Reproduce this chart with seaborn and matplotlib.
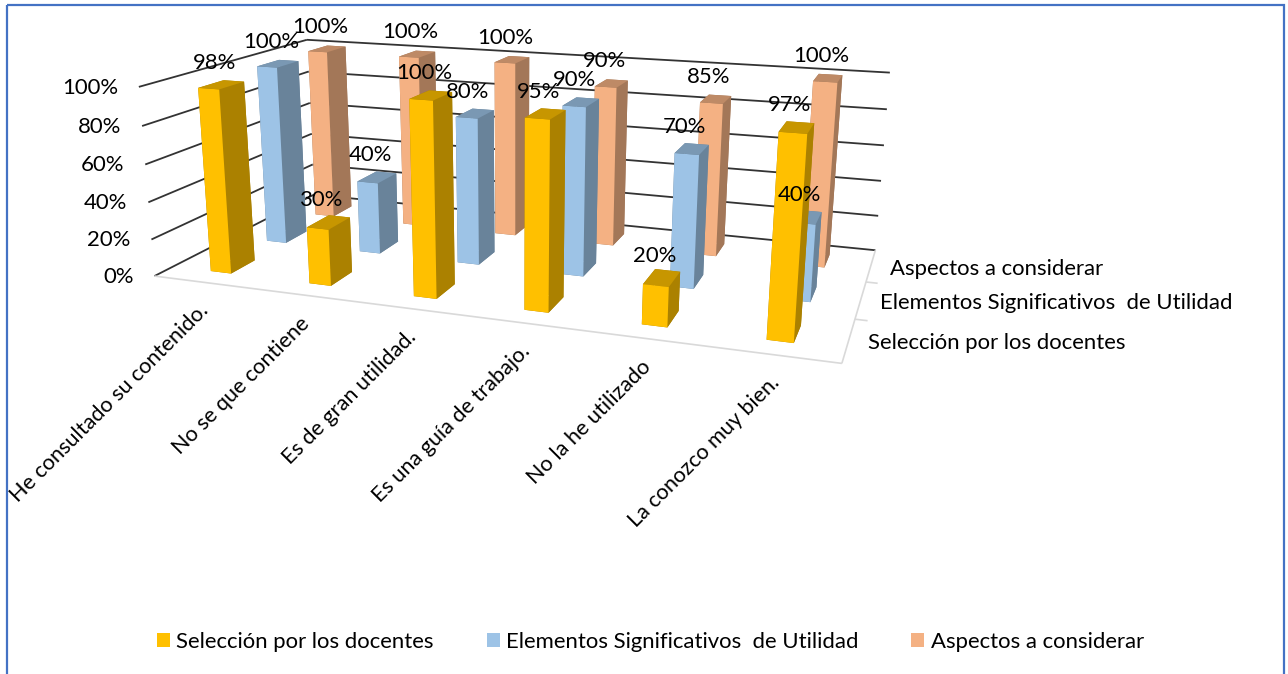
import numpy as np
import matplotlib
matplotlib.use("Agg")
import matplotlib.pyplot as plt
import seaborn as sns
from matplotlib.patches import Patch, Rectangle
from mpl_toolkits.mplot3d import proj3d
from mpl_toolkits.mplot3d.art3d import Line3DCollection

sns.set_theme(style="white")
plt.rcParams["font.family"] = ["Lato", "DejaVu Sans"]

# Data
categorias = ["He consultado su contenido.", "No se que contiene", "Es de gran utilidad.",
              "Es una guía de trabajo.", "No la he utilizado", "La conozco muy bien."]
series = ["Selección por los docentes", "Elementos Significativos  de Utilidad", "Aspectos a considerar"]
seleccion = [98, 30, 100, 95, 20, 97]
elementos = [100, 40, 80, 90, 70, 40]
aspectos = [100, 100, 100, 90, 85, 100]
y_ticks = [0, 20, 40, 60, 80, 100]
colores = ["#FFC000", "#9DC3E6", "#F4B183"]

valores = [seleccion, elementos, aspectos]
n_x, n_y = len(categorias), len(series)
FS = 15.9

W, H = 1288, 674
fig = plt.figure(figsize=(W / 100, H / 100), dpi=100)
# square 3d axes that overflows the figure, its 2d view limits are in image pixels
ax = fig.add_axes([0, -307 / H, 1, W / H], projection="3d")
ax.set_axis_off()
ax.computed_zorder = False
ax.viewLim.intervalx = (0, W)
ax.viewLim.intervaly = (981, -307)
ax.set_xlim(0, n_x)
ax.set_ylim(0, n_y)
ax.set_zlim(0, 100)

# Excel style 3d box: fit a projective camera on where the box corners sit in the image
cubo = [((0, 0, 0), (155, 275)), ((1, 0, 0), (843, 363)), ((1, 1, 0), (875, 250)), ((0, 1, 0), (313, 196)),
        ((0, 0, 1), (138, 86)), ((1, 0, 1), (858, 142)), ((1, 1, 1), (890, 71)), ((0, 1, 1), (308, 40))]
A, b = [], []
for (cx, cy, cz), (u, v) in cubo:
    A.append([cx, cy, cz, 1, 0, 0, 0, 0, -u * cx, -u * cy, -u * cz])
    A.append([0, 0, 0, 0, cx, cy, cz, 1, -v * cx, -v * cy, -v * cz])
    b += [u, v]
p = np.linalg.lstsq(np.array(A, float), np.array(b, float), rcond=None)[0]
escala = np.diag([1 / n_x, 1 / n_y, 1 / 100, 1])
M = np.array([p[:4], p[4:8], [-0.5, 1, -0.5, 0], [p[8], p[9], p[10], 1]]) @ escala
ax.get_proj = lambda: M


def px(x, y, z):
    u, v, _ = proj3d.proj_transform(x, y, z, M)
    return u, v


# gridlines on the back and left walls
rejilla = []
for t in y_ticks:
    rejilla.append([(0, 0, t), (0, n_y, t)])
    rejilla.append([(0, n_y, t), (n_x, n_y, t)])
ax.add_collection3d(Line3DCollection(rejilla, colors="#333333", linewidths=1.3, zorder=1))
# floor edges and small ticks
piso = [[(0, 0, 0), (n_x, 0, 0)], [(n_x, 0, 0), (n_x, n_y, 0)]]
for j in range(1, n_y):
    piso.append([(n_x, j, 0), (n_x + 0.1, j, 0)])
ax.add_collection3d(Line3DCollection(piso, colors="#D9D9D9", linewidths=1.2, zorder=1))

# bars, back row first
ancho, fondo = 0.21, 0.41
for j in reversed(range(n_y)):
    base = sns.desaturate(colores[j], 1)
    top = tuple(c * 0.78 for c in base)
    lado = tuple(c * 0.67 for c in base)
    # faces: bottom, top, front, back, left, right
    caras = [lado, top, base, lado, lado, lado]
    for i, val in enumerate(valores[j]):
        x0 = i + 0.5 - ancho / 2
        y0 = j + 0.5 - fondo / 2
        barra = ax.bar3d(x0, y0, 0, ancho, fondo, val, color=caras, shade=False, edgecolor="none", linewidth=0)
        barra.set_zorder(10 - j)
        u, v = px(i + 0.5, j + 0.5, val)
        ax.text2D(u - 7, v - 22, f"{val}%", transform=ax.transData, ha="center", va="center",
                  fontsize=FS, color="black", zorder=20)

# value axis labels
for t in y_ticks:
    u, v = px(0, 0, t)
    ax.text2D(u - 21, v + 1, f"{t}%", transform=ax.transData, ha="right", va="center",
              fontsize=FS, color="black", zorder=20)

# category labels
fig.add_artist(Rectangle((7, 5), W - 11, H + 10, transform=ax.transData, fill=False, edgecolor="#4472C4", lw=1.6))
for i, nombre in enumerate(categorias):
    u, v = px(i + 0.5, 0, 0)
    ax.text2D(u - 5, v + 18, nombre, transform=ax.transData, ha="right", va="top", rotation=45,
              rotation_mode="anchor", fontsize=15.6, color="black", zorder=20)

# series labels on the depth axis
for j, nombre in enumerate(series):
    u, v = px(n_x, j + 0.5, 0)
    ax.text2D(u + 19, v + 3, nombre, transform=ax.transData, ha="left", va="center",
              fontsize=FS, color="black", zorder=20)

manijas = [Patch(facecolor=c, edgecolor="none", label=s) for c, s in zip(colores, series)]
fig.legend(handles=manijas, loc="lower center", bbox_to_anchor=(0.505, 0.003), ncols=3, frameon=False,
           fontsize=FS, handlelength=0.58, handleheight=0.58, handletextpad=0.29, columnspacing=2.4,
           labelcolor="black")

fig.savefig("out.png", dpi=100)
